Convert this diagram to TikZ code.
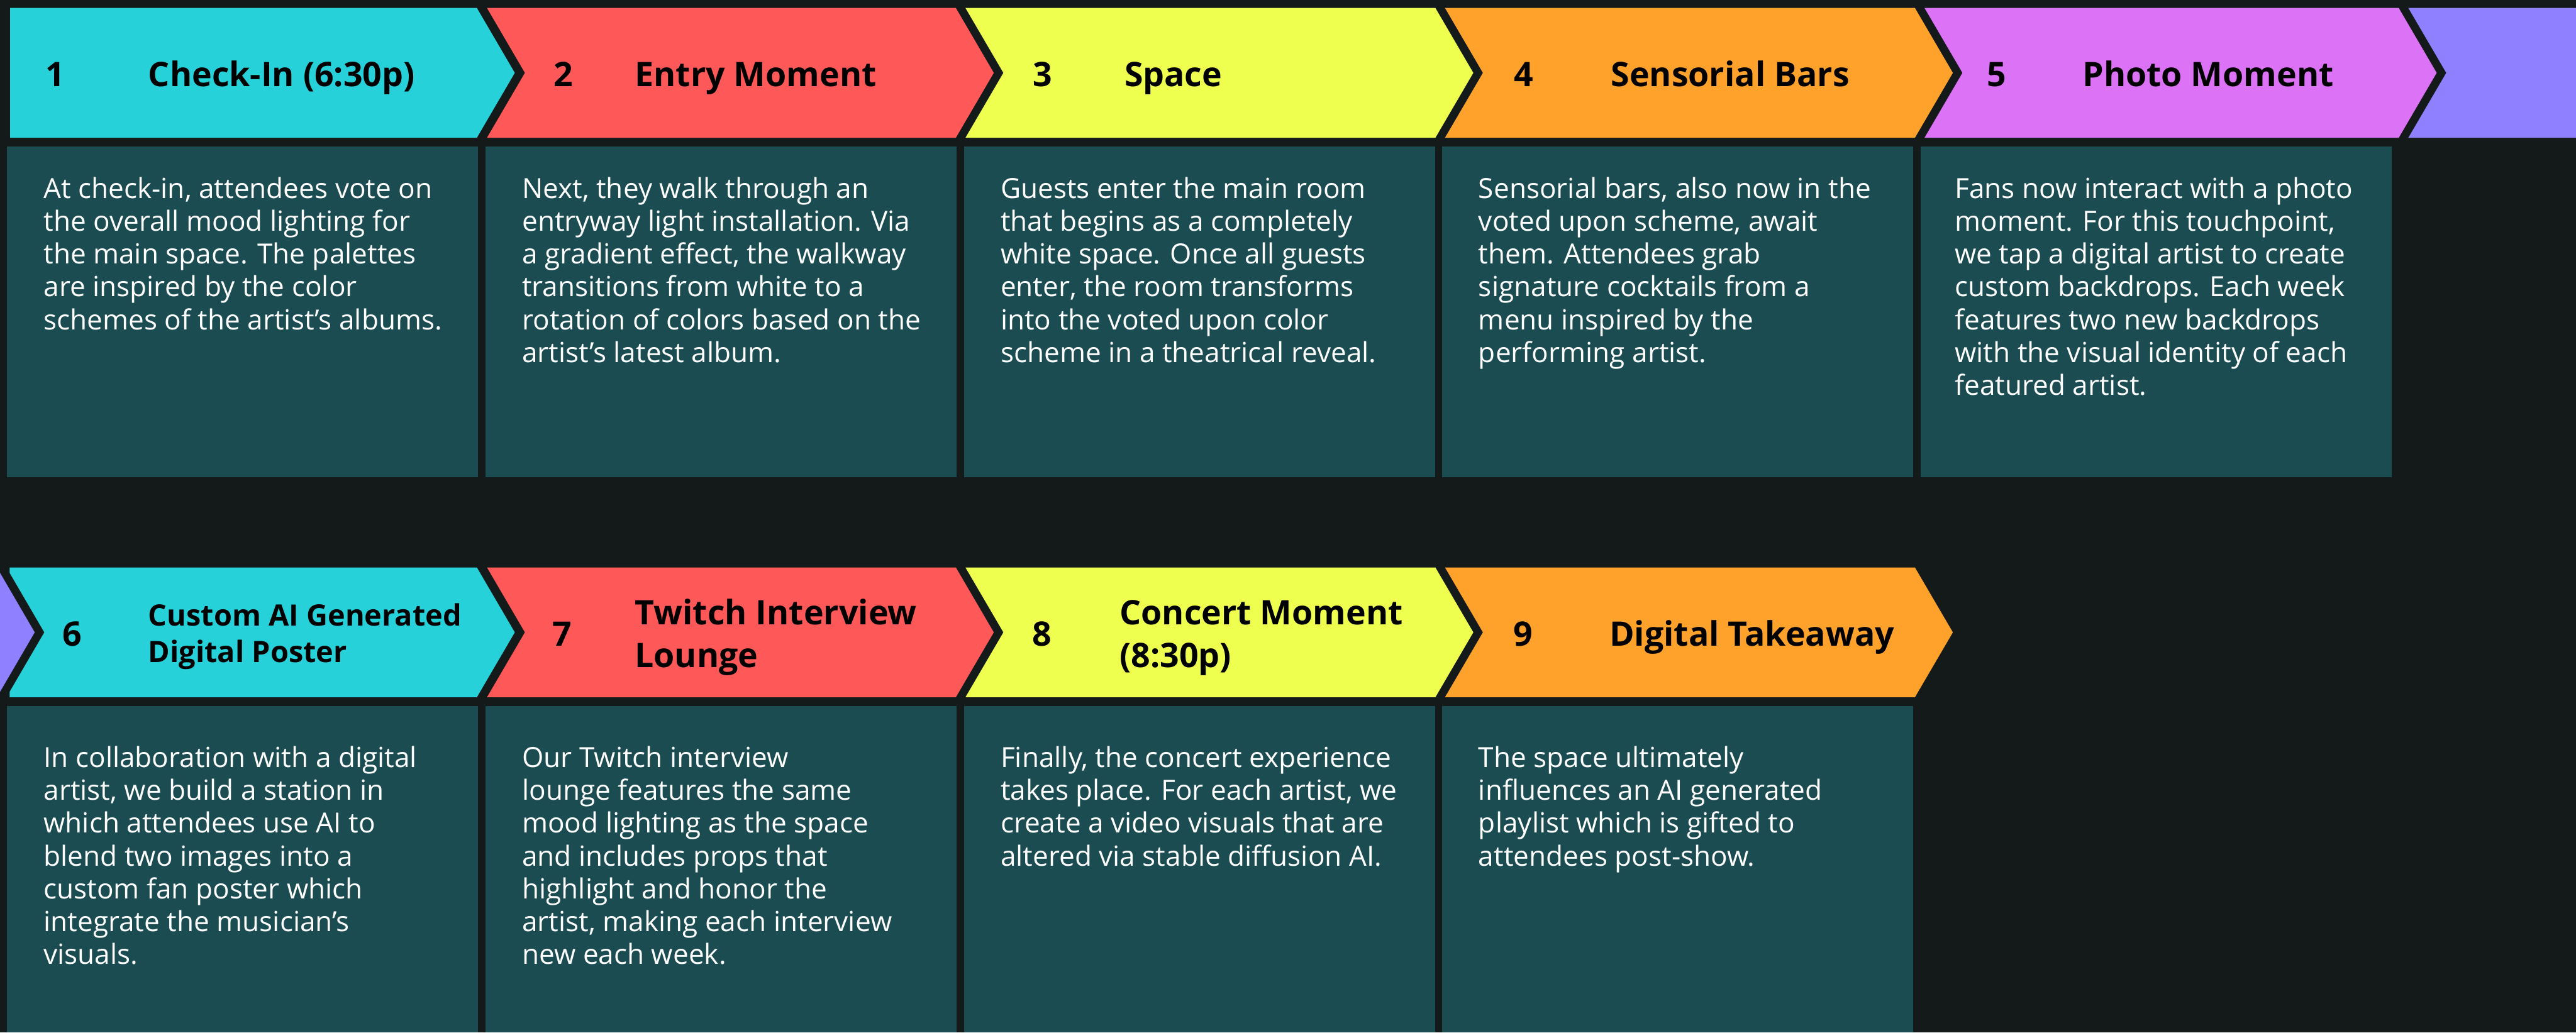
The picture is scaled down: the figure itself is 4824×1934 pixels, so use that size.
\documentclass[tikz,border=0pt]{standalone}
\usepackage{fontspec}
\setmainfont{Open Sans}

\definecolor{pagebg}{HTML}{141A1A}
\definecolor{cardfill}{HTML}{1A4C51}
\definecolor{stagecyan}{HTML}{26D1DA}
\definecolor{stagered}{HTML}{FF5858}
\definecolor{stageyellow}{HTML}{EEFF50}
\definecolor{stageorange}{HTML}{FFA22B}
\definecolor{stagepink}{HTML}{DC72F5}
\definecolor{stagepurple}{HTML}{8E80FF}

\newcommand\headfont{\fontsize{15.8pt}{20pt}\selectfont\bfseries}
\newcommand\smallheadfont{\fontsize{13.8pt}{17.25pt}\selectfont\bfseries}
\newcommand\copyfont{\fontsize{13pt}{15.4pt}\selectfont}
% stacked lines whose baseline is the first line
\newcommand\txtlines[1]{\begin{tabular}[t]{@{}l@{}}#1\end{tabular}}

% arrow band: colour, left x, right x, top y, bottom y
\newcommand\chevband[5]{%
  \fill[#1] (#2,#4) -- (#3,#4) -- ({#3+71},{(#4+#5)/2}) -- (#3,#5) -- (#2,#5)
    -- ({#2+71},{(#4+#5)/2}) -- cycle;}

\tikzset{
  numlabel/.style={anchor=base west, inner sep=0pt, font=\headfont, text=black},
  headlabel/.style={anchor=base west, inner sep=0pt, font=\headfont, text=black},
  copylabel/.style={anchor=base west, inner sep=0pt, font=\copyfont, text=white},
  card/.style={fill=cardfill}
}

\begin{document}
\begin{tikzpicture}[x=0.25pt,y=-0.25pt]
  % page
  \fill[pagebg] (0,0) rectangle (4824,1934);
  \useasboundingbox (0,0) rectangle (4824,1934);

  % ---------- first row of stages ----------
  \fill[stagecyan] (19,15) -- (893,15) -- (964,136.5) -- (893,258) -- (19,258) -- cycle;
  \chevband{stagered}{912}{1790}{15}{258}
  \chevband{stageyellow}{1808}{2688}{15}{258}
  \chevband{stageorange}{2706}{3586}{15}{258}
  \chevband{stagepink}{3604}{4492}{15}{258}
  \fill[stagepurple] (4510,15) -- (4824,15) -- (4824,258) -- (4510,258) -- (4581,136.5) -- cycle;

  \fill[card] (13,275) rectangle (895,894);
  \fill[card] (909,275) rectangle (1791,894);
  \fill[card] (1805,275) rectangle (2687,894);
  \fill[card] (2701,275) rectangle (3583,894);
  \fill[card] (3597,275) rectangle (4479,894);

  \node[numlabel] (n1) at (84,162) {1};
  \node[headlabel] (t1) at (277,162) {Check-In (6:30p)};
  \node[numlabel] (n2) at (1036,162) {2};
  \node[headlabel] (t2) at (1188,162) {Entry Moment};
  \node[numlabel] (n3) at (1934,162) {3};
  \node[headlabel] (t3) at (2105,162) {Space};
  \node[numlabel] (n4) at (2834,162) {4};
  \node[headlabel] (t4) at (3016,162) {Sensorial Bars};
  \node[numlabel] (n5) at (3720,162) {5};
  \node[headlabel] (t5) at (3899,162) {Photo Moment};

  \node[copylabel] (b1) at (81,371) {\txtlines{At check-in, attendees vote on\\
    the overall mood lighting for\\ the main space. The palettes\\
    are inspired by the color\\ schemes of the artist’s albums.}};
  \node[copylabel] (b2) at (977,371) {\txtlines{Next, they walk through an\\
    entryway light installation. Via\\ a gradient effect, the walkway\\
    transitions from white to a\\ rotation of colors based on the\\
    artist’s latest album.}};
  \node[copylabel] (b3) at (1873,371) {\txtlines{Guests enter the main room\\
    that begins as a completely\\ white space. Once all guests\\
    enter, the room transforms\\ into the voted upon color\\
    scheme in a theatrical reveal.}};
  \node[copylabel] (b4) at (2768,371) {\txtlines{Sensorial bars, also now in the\\
    voted upon scheme, await\\ them. Attendees grab\\
    signature cocktails from a\\ menu inspired by the\\
    performing artist.}};
  \node[copylabel] (b5) at (3660,371) {\txtlines{Fans now interact with a photo\\
    moment. For this touchpoint,\\ we tap a digital artist to create\\
    custom backdrops. Each week\\ features two new backdrops\\
    with the visual identity of each\\ featured artist.}};

  % ---------- second row of stages ----------
  \fill[stagepurple] (0,1073) -- (65,1184.5) -- (0,1296) -- cycle;
  \fill[stagecyan] (18,1063) -- (893,1063) -- (964,1184.5) -- (893,1306) -- (18,1306)
    -- (18,1296) -- (83,1184.5) -- (18,1073) -- cycle;
  \chevband{stagered}{912}{1790}{1063}{1306}
  \chevband{stageyellow}{1808}{2688}{1063}{1306}
  \chevband{stageorange}{2706}{3586}{1063}{1306}

  \fill[card] (13,1323) rectangle (895,1934);
  \fill[card] (909,1323) rectangle (1791,1934);
  \fill[card] (1805,1323) rectangle (2687,1934);
  \fill[card] (2701,1323) rectangle (3583,1934);

  \node[numlabel] (n6) at (116,1210) {6};
  \node[headlabel, font=\smallheadfont] (t6) at (277,1172)
    {\txtlines{Custom AI Generated\\ Digital Poster}};
  \node[numlabel] (n7) at (1034,1210) {7};
  \node[headlabel] (t7) at (1188,1170) {\txtlines{Twitch Interview\\ Lounge}};
  \node[numlabel] (n8) at (1932,1210) {8};
  \node[headlabel] (t8) at (2096,1170) {\txtlines{Concert Moment\\ (8:30p)}};
  \node[numlabel] (n9) at (2833,1210) {9};
  \node[headlabel] (t9) at (3013,1210) {Digital Takeaway};

  \node[copylabel] (b6) at (81,1437) {\txtlines{In collaboration with a digital\\
    artist, we build a station in\\ which attendees use AI to\\
    blend two images into a\\ custom fan poster which\\
    integrate the musician’s\\ visuals.}};
  \node[copylabel] (b7) at (977,1437) {\txtlines{Our Twitch interview\\
    lounge features the same\\ mood lighting as the space\\
    and includes props that\\ highlight and honor the\\
    artist, making each interview\\ new each week.}};
  \node[copylabel] (b8) at (1873,1437) {\txtlines{Finally, the concert experience\\
    takes place. For each artist, we\\ create a video visuals that are\\
    altered via stable diffusion AI.}};
  \node[copylabel] (b9) at (2768,1437) {\txtlines{The space ultimately\\
    influences an AI generated\\ playlist which is gifted to\\
    attendees post-show.}};
\end{tikzpicture}
\end{document}
